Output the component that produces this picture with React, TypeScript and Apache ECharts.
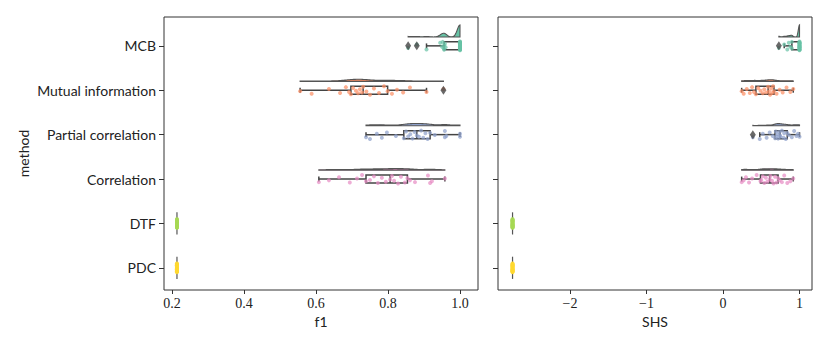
import React, { useEffect, useRef } from "react";
import * as echarts from "echarts";

const methods = ["MCB", "Mutual information", "Partial correlation", "Correlation", "DTF", "PDC"];
const colors = ["#66c2a5", "#fc8d62", "#8da0cb", "#e78ac3", "#a6d854", "#ffd92f"];

// f1 scores per method
const f1MCB = [0.856, 0.88, 0.907, 0.945, 0.95, 0.952, 0.955, 0.956, 0.956, 0.958, 0.96, 1, 1, 1, 1, 1, 1, 1, 1, 1, 1, 1, 1, 1, 1, 1, 1, 1, 1, 1, 1, 1, 1];
const f1Mutual = [0.556, 0.588, 0.636, 0.667, 0.683, 0.692, 0.697, 0.703, 0.711, 0.717, 0.722, 0.728, 0.731, 0.74, 0.75, 0.761, 0.775, 0.789, 0.799, 0.811, 0.825, 0.842, 0.861, 0.907, 0.954];
const f1Partial = [0.739, 0.75, 0.769, 0.783, 0.797, 0.822, 0.844, 0.85, 0.856, 0.862, 0.868, 0.874, 0.88, 0.886, 0.892, 0.898, 0.904, 0.91, 0.917, 0.93, 0.958, 0.958, 0.962, 1.0, 1.0];
const f1Corr = [0.608, 0.636, 0.664, 0.694, 0.714, 0.728, 0.739, 0.75, 0.761, 0.772, 0.783, 0.794, 0.806, 0.811, 0.817, 0.828, 0.836, 0.847, 0.854, 0.861, 0.875, 0.911, 0.917, 0.922, 0.958];
const f1DTF = [0.214, 0.214, 0.214, 0.214, 0.214, 0.214, 0.214, 0.214, 0.214, 0.214, 0.214, 0.214, 0.214, 0.214, 0.214, 0.214, 0.214, 0.214, 0.214, 0.214, 0.214, 0.214, 0.214, 0.214, 0.214];
const f1PDC = [0.214, 0.214, 0.214, 0.214, 0.214, 0.214, 0.214, 0.214, 0.214, 0.214, 0.214, 0.214, 0.214, 0.214, 0.214, 0.214, 0.214, 0.214, 0.214, 0.214, 0.214, 0.214, 0.214, 0.214, 0.214];

// SHS scores per method
const shsMCB = [0.73, 0.8, 0.84, 0.86, 0.88, 0.9, 0.9, 1, 1, 1, 1, 1, 1, 1, 1, 1, 1, 1, 1, 1, 1, 1, 1, 1, 1];
const shsMutual = [0.244, 0.27, 0.31, 0.35, 0.38, 0.405, 0.43, 0.46, 0.49, 0.52, 0.54, 0.565, 0.59, 0.6, 0.615, 0.63, 0.645, 0.655, 0.666, 0.7, 0.74, 0.78, 0.83, 0.88, 0.918];
const shsPartial = [0.39, 0.48, 0.52, 0.57, 0.61, 0.65, 0.68, 0.69, 0.7, 0.71, 0.72, 0.735, 0.745, 0.75, 0.77, 0.79, 0.8, 0.82, 0.84, 0.86, 0.9, 0.93, 0.96, 0.98, 1.0];
const shsCorr = [0.244, 0.27, 0.3, 0.34, 0.38, 0.44, 0.49, 0.5, 0.52, 0.54, 0.56, 0.58, 0.61, 0.62, 0.64, 0.66, 0.68, 0.7, 0.72, 0.74, 0.77, 0.8, 0.84, 0.88, 0.918];
const shsDTF = [-2.75, -2.75, -2.75, -2.75, -2.75, -2.75, -2.75, -2.75, -2.75, -2.75, -2.75, -2.75, -2.75, -2.75, -2.75, -2.75, -2.75, -2.75, -2.75, -2.75, -2.75, -2.75, -2.75, -2.75, -2.75];
const shsPDC = [-2.75, -2.75, -2.75, -2.75, -2.75, -2.75, -2.75, -2.75, -2.75, -2.75, -2.75, -2.75, -2.75, -2.75, -2.75, -2.75, -2.75, -2.75, -2.75, -2.75, -2.75, -2.75, -2.75, -2.75, -2.75];

// vertical strip jitter (category units) per method
const jitMCB = [0.05, -0.03, 0.08, -0.07, 0.02, -0.09, 0.06, -0.01, 0.09, -0.05, 0.03, -0.08, 0.01, 0.07, -0.04, 0.1, -0.06, 0.04, -0.1, 0.0, 0.06, -0.02, 0.08, -0.07, 0.03, -0.06, 0.09, -0.03, 0.05, -0.09, 0.02, 0.07, -0.04];
const jitMutual = [0.02, 0.08, -0.03, 0.06, -0.07, 0.04, 0.09, -0.05, 0.01, 0.07, -0.02, 0.05, -0.08, 0.03, 0.1, -0.04, 0.06, -0.09, 0.02, 0.08, -0.01, 0.05, -0.06, 0.04, -0.03];
const jitPartial = [0.06, 0.1, -0.02, 0.07, -0.05, 0.03, 0.08, -0.07, 0.04, -0.01, 0.09, -0.06, 0.02, 0.05, -0.09, 0.07, -0.03, 0.1, -0.04, 0.01, 0.06, -0.08, 0.03, -0.02, 0.05];
const jitCorr = [0.07, 0.03, -0.04, 0.08, -0.01, -0.09, 0.05, 0.02, -0.06, 0.09, -0.03, 0.06, 0.01, -0.07, 0.04, 0.1, -0.05, 0.08, -0.02, 0.03, 0.07, -0.08, 0.09, 0.05, -0.01];
const jitDTF = [0.04, -0.06, 0.09, -0.02, 0.07, -0.1, 0.01, 0.05, -0.08, 0.03, -0.04, 0.1, -0.07, 0.06, 0.0, -0.05, 0.08, -0.03, 0.02, -0.09, 0.06, -0.01, 0.09, -0.06, 0.03];
const jitPDC = [-0.05, 0.07, -0.02, 0.09, -0.08, 0.03, 0.05, -0.1, 0.02, -0.04, 0.08, -0.06, 0.1, 0.01, -0.07, 0.04, -0.03, 0.06, -0.09, 0.0, 0.07, -0.02, 0.04, -0.06, 0.09];

const f1Groups = [f1MCB, f1Mutual, f1Partial, f1Corr, f1DTF, f1PDC];
const shsGroups = [shsMCB, shsMutual, shsPartial, shsCorr, shsDTF, shsPDC];
const jitters = [jitMCB, jitMutual, jitPartial, jitCorr, jitDTF, jitPDC];

const f1Ticks = [0.2, 0.4, 0.6, 0.8, 1.0];
const shsTicks = [-2, -1, 0, 1];
const rowTicks = [0, 1, 2, 3, 4, 5];

const SANS = "Lato, 'DejaVu Sans', sans-serif";
const SERIF = "'Liberation Serif', 'DejaVu Serif', serif";
const EDGE = "#444444";

function quantile(s: number[], p: number) {
  const pos = (s.length - 1) * p;
  const lo = Math.floor(pos);
  const hi = Math.ceil(pos);
  return s[lo] + (s[hi] - s[lo]) * (pos - lo);
}

function boxStats(vals: number[]) {
  const s = [...vals].sort((a, b) => a - b);
  const q1 = quantile(s, 0.25);
  const med = quantile(s, 0.5);
  const q3 = quantile(s, 0.75);
  const iqr = q3 - q1;
  const eps = 1e-9;
  const inside = s.filter((v) => v >= q1 - 1.5 * iqr - eps && v <= q3 + 1.5 * iqr + eps);
  const outliers = s.filter((v) => v < q1 - 1.5 * iqr - eps || v > q3 + 1.5 * iqr + eps);
  return { q1, med, q3, lo: inside[0], hi: inside[inside.length - 1], outliers, min: s[0], max: s[s.length - 1] };
}

function kde(vals: number[]) {
  const n = vals.length;
  const mean = vals.reduce((a, b) => a + b, 0) / n;
  const sd = Math.sqrt(vals.reduce((a, b) => a + (b - mean) ** 2, 0) / (n - 1));
  const bw = 0.2 * sd;
  const mn = Math.min(...vals);
  const mx = Math.max(...vals);
  const out: number[][] = [];
  if (bw <= 0 || mx === mn) return out;
  const G = 100;
  for (let k = 0; k < G; k++) {
    const x = mn + ((mx - mn) * k) / (G - 1);
    let d = 0;
    for (const v of vals) {
      const z = (x - v) / bw;
      d += Math.exp(-0.5 * z * z);
    }
    d /= n * bw * Math.sqrt(2 * Math.PI);
    out.push([x, d]);
  }
  return out;
}

function makeRenderer(groups: number[][]) {
  const dens = groups.map(kde);
  let gmax = 0;
  dens.forEach((d) => d.forEach((p) => (gmax = Math.max(gmax, p[1]))));
  const halfWidth = 0.27;
  const offset = 0.2;
  const boxH = 0.09;
  const capH = 0.055;
  return (params: any, api: any) => {
    const i = api.value(1);
    const vals = groups[i];
    const st = boxStats(vals);
    const children: any[] = [];
    const line = (x1: number, y1: number, x2: number, y2: number, w = 1.5, c = EDGE) => {
      const a = api.coord([x1, y1]);
      const b = api.coord([x2, y2]);
      return { type: "line", shape: { x1: a[0], y1: a[1], x2: b[0], y2: b[1] }, style: { stroke: c, lineWidth: w } };
    };
    if (st.min === st.max) {
      children.push(line(st.min, i - 0.25, st.min, i + 0.25, 1.2, "#555"));
      return { type: "group", children };
    }
    // half violin
    const d = dens[i];
    const base = i - offset;
    const pts: number[][] = [];
    pts.push(api.coord([d[0][0], base]));
    d.forEach((p) => pts.push(api.coord([p[0], base - (p[1] / gmax) * halfWidth])));
    pts.push(api.coord([d[d.length - 1][0], base]));
    children.push({ type: "polygon", shape: { points: pts }, style: { fill: colors[i], stroke: "#555", lineWidth: 1.1 } });
    // whiskers
    children.push(line(st.lo, i, st.q1, i));
    children.push(line(st.q3, i, st.hi, i));
    children.push(line(st.lo, i - capH, st.lo, i + capH));
    children.push(line(st.hi, i - capH, st.hi, i + capH));
    // box
    const p1 = api.coord([st.q1, i - boxH]);
    const p2 = api.coord([st.q3, i + boxH]);
    children.push({
      type: "rect",
      shape: { x: p1[0], y: p1[1], width: p2[0] - p1[0], height: p2[1] - p1[1] },
      style: { fill: "none", stroke: EDGE, lineWidth: 1.5 },
    });
    children.push(line(st.med, i - boxH, st.med, i + boxH));
    return { type: "group", children };
  };
}

function buildSeries(groups: number[][], axis: number) {
  const series: any[] = [];
  series.push({
    type: "custom",
    xAxisIndex: axis,
    yAxisIndex: axis,
    renderItem: makeRenderer(groups),
    data: groups.map((g, i) => [boxStats(g).med, i]),
    encode: { x: 0, y: 1 },
    clip: false,
    z: 2,
    silent: true,
  });
  groups.forEach((g, i) => {
    series.push({
      type: "scatter",
      xAxisIndex: axis,
      yAxisIndex: axis,
      data: g.map((v, k) => [v, i + jitters[i][k % jitters[i].length]]),
      symbol: "circle",
      symbolSize: 4,
      itemStyle: { color: colors[i], opacity: 0.7 },
      z: 3,
      silent: true,
    });
  });
  const outl: number[][] = [];
  groups.forEach((g, i) => {
    const st = boxStats(g);
    if (st.min !== st.max) st.outliers.forEach((v) => outl.push([v, i]));
  });
  series.push({
    type: "scatter",
    xAxisIndex: axis,
    yAxisIndex: axis,
    data: outl,
    symbol: "diamond",
    symbolSize: [6, 9],
    itemStyle: { color: "#444" },
    z: 4,
    silent: true,
  });
  return series;
}

export default function App() {
  const ref = useRef<HTMLDivElement>(null);
  useEffect(() => {
    if (!ref.current) return;
    const chart = echarts.init(ref.current, undefined, { renderer: "svg" });
    const gridTop = 17;
    const gridH = 273;
    const yAxisBase = (idx: number, labels: boolean) => ({
      type: "value",
      gridIndex: idx,
      min: -0.65,
      max: 5.5,
      inverse: true,
      splitLine: { show: false },
      axisLine: { show: false, onZero: false },
      axisTick: { show: true, length: 5, customValues: rowTicks, lineStyle: { color: "#333", width: 1 } },
      axisLabel: {
        show: labels,
        customValues: rowTicks,
        formatter: (v: number) => methods[Math.round(v)] ?? "",
        fontFamily: SANS,
        fontSize: 14,
        color: "#222",
        margin: 8,
      },
      name: labels ? "method" : "",
      nameLocation: "middle",
      nameGap: 134,
      nameTextStyle: { fontFamily: SANS, fontSize: 14, color: "#222" },
    });
    chart.setOption({
      animation: false,
      backgroundColor: "#fff",
      grid: [
        { left: 164, top: gridTop, width: 314, height: gridH, show: true, borderColor: "#333", borderWidth: 1, backgroundColor: "transparent" },
        { left: 498, top: gridTop, width: 314, height: gridH, show: true, borderColor: "#333", borderWidth: 1, backgroundColor: "transparent" },
      ],
      xAxis: [
        {
          type: "value",
          gridIndex: 0,
          min: 0.178,
          max: 1.05,
          splitLine: { show: false },
          axisLine: { show: false, onZero: false },
          axisTick: { show: true, length: 4, customValues: f1Ticks, lineStyle: { color: "#333" } },
          axisLabel: { customValues: f1Ticks, formatter: (v: number) => v.toFixed(1), fontFamily: SERIF, fontSize: 14, color: "#222", margin: 6 },
          name: "f1",
          nameLocation: "middle",
          nameGap: 22,
          nameTextStyle: { fontFamily: SANS, fontSize: 14, color: "#222" },
        },
        {
          type: "value",
          gridIndex: 1,
          min: -2.94,
          max: 1.163,
          splitLine: { show: false },
          axisLine: { show: false, onZero: false },
          axisTick: { show: true, length: 4, customValues: shsTicks, lineStyle: { color: "#333" } },
          axisLabel: {
            customValues: shsTicks,
            formatter: (v: number) => (v < 0 ? "\u2212" + Math.abs(v) : String(v)),
            fontFamily: SERIF,
            fontSize: 14,
            color: "#222",
            margin: 6,
          },
          name: "SHS",
          nameLocation: "middle",
          nameGap: 22,
          nameTextStyle: { fontFamily: SANS, fontSize: 14, color: "#222" },
        },
      ],
      yAxis: [yAxisBase(0, true), yAxisBase(1, false)],
      series: [...buildSeries(f1Groups, 0), ...buildSeries(shsGroups, 1)],
    });
    return () => chart.dispose();
  }, []);
  return <div ref={ref} style={{ width: 830, height: 346, margin: -8 }} />;
}
